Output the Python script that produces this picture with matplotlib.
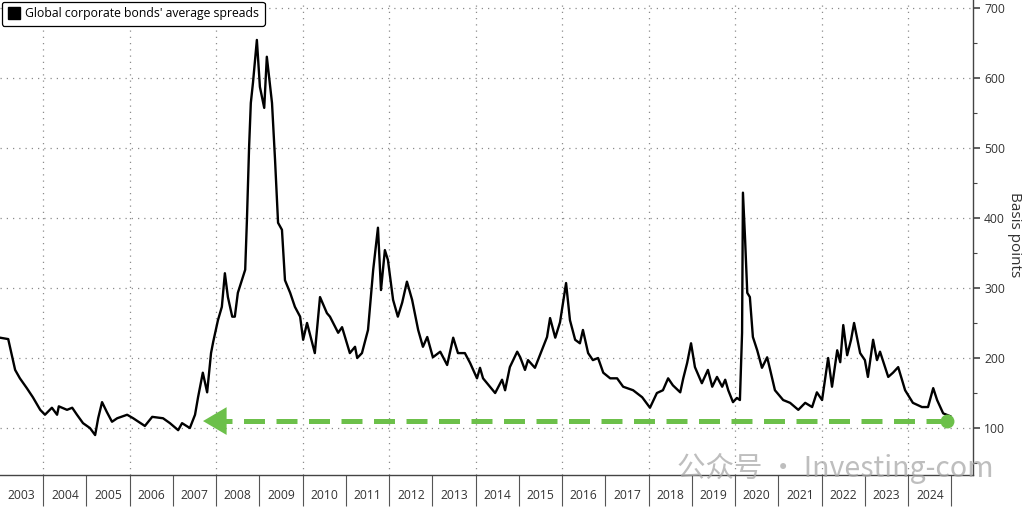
import numpy as np
import matplotlib.pyplot as plt
from matplotlib.lines import Line2D

# decimal year, spread in basis points
anni = [2003.00, 2003.19, 2003.35, 2003.46, 2003.62, 2003.76, 2003.93, 2004.04, 2004.20, 2004.32,
        2004.36, 2004.55, 2004.67, 2004.78, 2004.92, 2005.08, 2005.20, 2005.27, 2005.36, 2005.47,
        2005.59, 2005.71, 2005.94, 2006.08, 2006.35, 2006.52, 2006.77, 2006.93, 2007.12, 2007.21,
        2007.39, 2007.51, 2007.58, 2007.69, 2007.79, 2007.88, 2007.93, 2008.04, 2008.13, 2008.20,
        2008.27, 2008.37, 2008.43, 2008.50, 2008.67, 2008.71, 2008.76, 2008.80, 2008.85, 2008.94,
        2009.01, 2009.11, 2009.17, 2009.29, 2009.36, 2009.43, 2009.52, 2009.59, 2009.71, 2009.82,
        2009.94, 2010.01, 2010.10, 2010.28, 2010.40, 2010.56, 2010.63, 2010.82, 2010.91, 2011.09,
        2011.21, 2011.26, 2011.37, 2011.51, 2011.63, 2011.74, 2011.81, 2011.90, 2011.97, 2012.09,
        2012.20, 2012.30, 2012.41, 2012.53, 2012.67, 2012.78, 2012.88, 2013.01, 2013.18, 2013.34,
        2013.48, 2013.59, 2013.75, 2013.87, 2014.03, 2014.10, 2014.17, 2014.33, 2014.45, 2014.61,
        2014.68, 2014.79, 2014.96, 2015.03, 2015.14, 2015.21, 2015.37, 2015.53, 2015.65, 2015.72,
        2015.84, 2015.95, 2016.02, 2016.09, 2016.18, 2016.30, 2016.41, 2016.48, 2016.60, 2016.71,
        2016.83, 2016.95, 2017.11, 2017.27, 2017.41, 2017.64, 2017.85, 2018.03, 2018.19, 2018.33,
        2018.45, 2018.56, 2018.73, 2018.80, 2018.89, 2018.98, 2019.07, 2019.23, 2019.37, 2019.47,
        2019.58, 2019.70, 2019.77, 2019.84, 2019.95, 2020.04, 2020.11, 2020.16, 2020.18, 2020.23,
        2020.28, 2020.34, 2020.41, 2020.51, 2020.62, 2020.74, 2020.81, 2020.92, 2021.11, 2021.27,
        2021.46, 2021.62, 2021.78, 2021.89, 2022.01, 2022.15, 2022.24, 2022.36, 2022.43, 2022.50,
        2022.59, 2022.68, 2022.75, 2022.89, 2023.00, 2023.07, 2023.19, 2023.28, 2023.35, 2023.54,
        2023.65, 2023.77, 2023.93, 2024.11, 2024.32, 2024.46, 2024.58, 2024.67, 2024.81, 2024.97]
spread = [229, 227, 183, 171, 157, 144, 126, 119, 129, 119,
          131, 126, 129, 119, 107, 100, 90, 114, 137, 123,
          109, 114, 119, 114, 103, 116, 114, 107, 97, 107,
          100, 119, 144, 179, 151, 207, 223, 254, 273, 321,
          287, 259, 259, 293, 326, 397, 501, 564, 593, 654,
          587, 557, 630, 564, 483, 393, 383, 311, 293, 273,
          259, 226, 250, 207, 287, 264, 259, 236, 244, 207,
          216, 200, 207, 240, 326, 386, 297, 354, 340, 283,
          259, 279, 309, 283, 240, 216, 230, 201, 209, 190,
          229, 207, 207, 193, 171, 186, 171, 159, 150, 169,
          154, 187, 209, 201, 183, 197, 186, 211, 230, 257,
          229, 251, 279, 307, 254, 226, 221, 240, 207, 197,
          200, 179, 171, 171, 159, 154, 144, 129, 150, 154,
          171, 161, 151, 171, 193, 221, 187, 164, 183, 159,
          173, 159, 169, 154, 137, 143, 140, 236, 436, 369,
          293, 287, 230, 211, 186, 201, 183, 154, 140, 136,
          126, 136, 130, 151, 140, 200, 159, 211, 194, 247,
          204, 226, 250, 207, 197, 173, 226, 197, 209, 173,
          179, 187, 154, 136, 130, 130, 157, 140, 121, 117]

livello = 110          # green reference line
freccia_da = 2007.63
freccia_a = 2024.90
anni_etichette = list(range(2003, 2025))

verde = '#6cc04a'
grigio = '#333333'
font = ['Open Sans', 'DejaVu Sans']

fig = plt.figure(figsize=(10.24, 5.09), dpi=100)
ax = fig.add_axes([0.0, 1 - 475 / 509, 973 / 1024, 475 / 509])

ax.plot(anni, spread, color='black', lw=1.7, zorder=3)

# green dashed line with arrow
ax.plot([freccia_da + 0.25, freccia_a], [livello, livello], color=verde, lw=3.6,
        linestyle=(0, (4.2, 2.3)), solid_capstyle='butt', zorder=4)
ax.annotate('', xy=(freccia_da, livello), xytext=(freccia_da + 0.45, livello),
            arrowprops=dict(arrowstyle='-|>,head_length=0.85,head_width=0.5',
                            color=verde, lw=0, mutation_scale=20), zorder=4)
ax.plot([freccia_a], [livello], 'o', color=verde, ms=9, zorder=5)

ax.set_xlim(2003.0, 2025.5)
ax.set_ylim(33, 711)

# grid
for a in range(2004, 2025, 2):
    ax.axvline(a, color='#8c8c8c', lw=0.9, linestyle=(0, (1, 4)), zorder=1)
for v in range(100, 701, 100):
    ax.axhline(v, color='#8c8c8c', lw=0.9, linestyle=(0, (1, 4)), zorder=1)

# x axis: separators at year boundaries, labels in the middle
ax.set_xticks(range(2004, 2026))
ax.set_xticklabels([])
ax.set_xticks([a + 0.5 for a in anni_etichette], minor=True)
ax.set_xticklabels([str(a) for a in anni_etichette], minor=True, family=font,
                   fontsize=8.7, color=grigio)
ax.tick_params(axis='x', which='major', length=22, width=0.8, color='#555555', direction='out')
ax.tick_params(axis='x', which='minor', length=0, pad=10)

# y axis on the right
ax.yaxis.tick_right()
ax.yaxis.set_label_position('right')
ax.set_yticks(range(100, 701, 100))
ax.set_yticklabels([str(v) for v in range(100, 701, 100)], family=font, fontsize=8.7, color=grigio)
ax.set_yticks(range(50, 701, 50), minor=True)
ax.tick_params(axis='y', which='major', length=5, width=1.2, color='#444444', pad=3)
ax.tick_params(axis='y', which='minor', length=3, width=0.8, color='#444444')
ax.set_ylabel('Basis points', family=font, fontsize=11, color=grigio, rotation=270, labelpad=10)
ax.yaxis.set_label_coords(1.05, 0.505)

for s in ['left', 'top']:
    ax.spines[s].set_visible(False)
ax.spines['right'].set_color('#444444')
ax.spines['bottom'].set_color('#444444')
ax.spines['right'].set_linewidth(1.0)
ax.spines['bottom'].set_linewidth(1.0)

h = Line2D([], [], marker='s', color='black', linestyle='None', markersize=9)
leg = ax.legend([h], ["Global corporate bonds' average spreads"], loc='upper left',
                bbox_to_anchor=(0.0, 1.0), borderaxespad=0.15, handletextpad=0.35,
                handlelength=1.1, borderpad=0.45, fancybox=True,
                prop={'family': font, 'size': 8.8})
leg.get_frame().set_edgecolor('black')
leg.get_frame().set_linewidth(0.9)
leg.get_frame().set_alpha(1)

# watermark
fig.text(0.661, 1 - 468 / 509, '公众号 · Investing-com', family=['Noto Sans CJK SC', 'DejaVu Sans'],
         fontsize=20.5, color='#a8a8a8', alpha=0.75, va='center', ha='left', zorder=10)

fig.savefig('out.png', dpi=100)
